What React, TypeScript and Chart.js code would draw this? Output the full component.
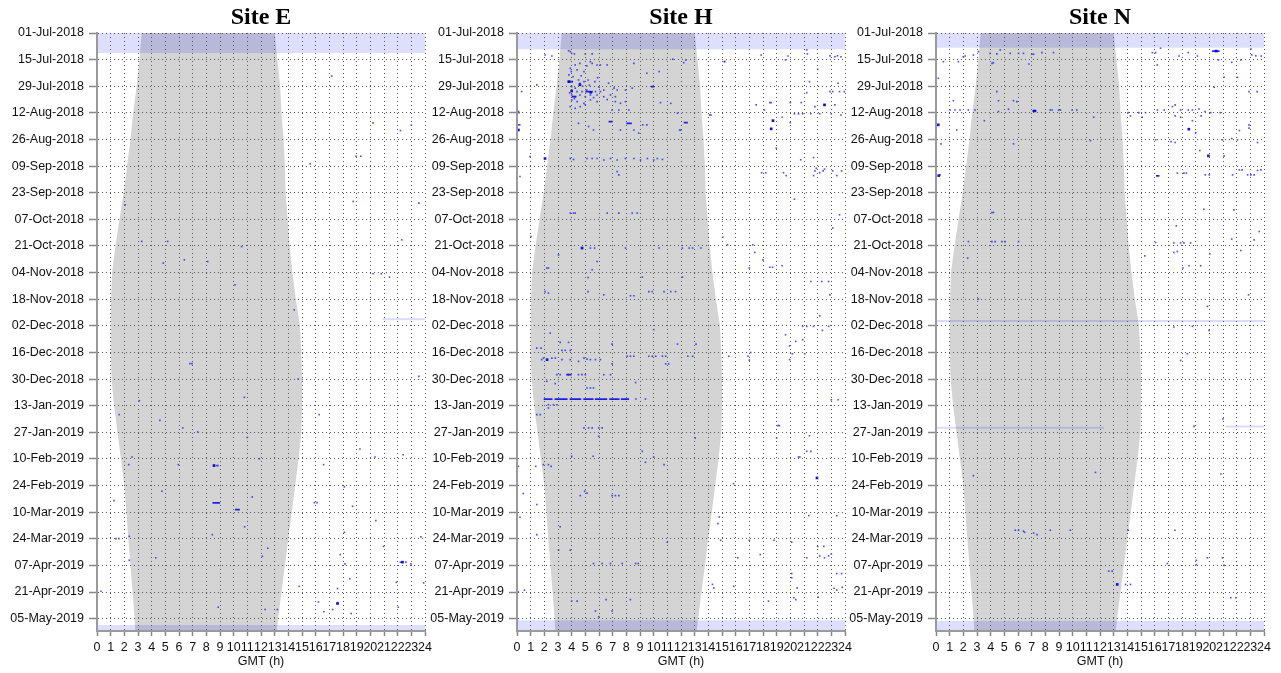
import React, { useEffect, useRef } from "react";
import { Chart, registerables } from "chart.js";
Chart.register(...registerables);

// ---------- axis data ----------
const hourTicks = [0, 1, 2, 3, 4, 5, 6, 7, 8, 9, 10, 11, 12, 13, 14, 15, 16, 17, 18, 19, 20, 21, 22, 23, 24];
const tickDays = [0, 14, 28, 42, 56, 70, 84, 98, 112, 126, 140, 154, 168, 182, 196, 210, 224, 238, 252, 266, 280, 294, 308];
const tickLabels = [
  "01-Jul-2018", "15-Jul-2018", "29-Jul-2018", "12-Aug-2018", "26-Aug-2018", "09-Sep-2018",
  "23-Sep-2018", "07-Oct-2018", "21-Oct-2018", "04-Nov-2018", "18-Nov-2018", "02-Dec-2018",
  "16-Dec-2018", "30-Dec-2018", "13-Jan-2019", "27-Jan-2019", "10-Feb-2019", "24-Feb-2019",
  "10-Mar-2019", "24-Mar-2019", "07-Apr-2019", "21-Apr-2019", "05-May-2019",
];
const dayMax = 314.5;

// ---------- grey period (hours) by day ----------
const nightDays = [0, 14, 28, 42, 56, 70, 84, 98, 112, 126, 140, 154, 168, 182, 196, 210, 224, 238, 252, 266, 280, 294, 308, 315];
const nightStart = [3.27, 3.1, 2.9, 2.65, 2.45, 2.2, 1.95, 1.65, 1.35, 1.1, 1.03, 1.0, 1.0, 1.07, 1.25, 1.5, 1.75, 2.0, 2.15, 2.29, 2.45, 2.6, 2.75, 2.8];
const nightEnd = [13.0, 13.2, 13.4, 13.5, 13.65, 13.75, 13.8, 13.95, 14.1, 14.3, 14.55, 14.85, 14.95, 15.0, 15.0, 14.95, 14.75, 14.5, 14.25, 14.0, 13.75, 13.5, 13.25, 13.15];

// ---------- Site E ----------
const siteEPoints: number[][] = [
  [17.17, 22.6], [20.2, 47.3], [22.2, 51.3], [23.0, 48.5], [18.95, 64.8], [19.3, 64.8], [15.6, 68.8],
  [2.05, 90.4], [18.75, 88.6], [23.55, 89.5], [3.27, 109.6], [5.17, 109.6], [10.58, 112.3], [22.3, 108.8],
  [6.39, 119.3], [4.85, 121], [8.1, 120.2], [20.2, 126.6], [20.8, 126.6], [21.4, 128.4], [10.1, 132.4],
  [14.43, 145.6], [6.8, 173.9], [6.95, 173.9], [14.73, 182], [23.55, 180.6], [3.1, 193.4], [10.78, 191.6],
  [1.63, 200.7], [16.26, 200.7], [4.6, 203.7], [6.27, 207.7], [7.37, 209.8], [11.0, 212.7], [19.24, 218.8],
  [20.34, 223], [22.4, 221.8], [2.56, 223], [2.32, 227], [5.95, 227], [8.56, 227.5], [8.75, 227.5],
  [8.85, 227.5], [11.87, 223.9], [16.58, 227], [4.75, 241], [18.1, 238.7], [1.24, 245.9], [11.36, 244],
  [15.9, 247], [16.1, 247], [18.7, 248.9], [20.4, 256.4], [10.8, 259.7], [8.44, 263.8], [1.39, 265.9],
  [1.6, 265.9], [2.36, 264.7], [18.1, 262.6], [23.7, 265], [20.97, 270], [12.5, 271], [12.1, 275.2],
  [4.3, 276], [2.36, 277.3], [17.8, 274.3], [18.14, 279.2], [22.2, 278.3], [22.35, 278.3], [22.6, 278.3],
  [22.97, 279.2], [18.5, 287], [21.9, 288.9], [23.9, 289.2], [14.8, 291], [17.6, 292.2], [0.29, 293.6],
  [16.2, 299.2], [17.6, 300], [17.24, 303.2], [16.6, 304.4], [18.6, 305.3], [22.04, 302], [8.87, 302],
  [12.3, 303.2], [13.2, 303.2],
];
const siteEStrong: number[][] = [[8.56, 227.5], [17.6, 300], [22.35, 278.3]];
const siteEBouts: number[][] = [[8.45, 9.0, 247.1], [10.1, 10.45, 250.7]];
const siteEGaps: number[][] = [[20.9, 24, 150.5]];
const siteEBands = [0, 10.5, 311.3, dayMax];

// ---------- Site H ----------
const siteHPoints: number[][] = [
  [3.77, 9.3], [3.9, 9.8], [4.0, 10.7], [4.2, 11], [5.0, 11], [5.5, 11], [2.06, 11.6], [2.55, 12.1],
  [1.45, 27.3], [0.34, 30.8], [0.1, 41.3], [0.1, 48.3], [0.2, 48.3], [0.1, 51], [0.96, 65], [0.15, 41.9],
  [8.55, 16], [11.4, 13.8], [12.35, 14.2], [12.2, 15.6], [15.2, 15], [9.5, 21.2], [10.4, 20.3], [6.7, 26.4],
  [10.5, 36.6], [11.25, 37], [11.74, 42.2], [14.1, 43.1], [12.0, 51], [11.9, 51], [9.2, 48.3], [9.5, 48.3],
  [8.55, 51], [8.9, 52.7],
  [3.9, 18.6], [4.26, 16.8], [4.6, 16], [5.1, 17.3], [5.5, 16], [5.86, 16.8], [6.1, 16.8], [6.6, 16.8],
  [4.4, 19.4], [4.9, 20.3], [5.37, 15.1], [3.97, 20.3], [4.1, 23], [4.0, 25.6], [4.5, 24.7], [4.6, 26.4],
  [4.9, 25.6], [5.2, 24.7], [5.7, 25.6], [7.1, 29], [7.33, 30], [7.94, 30], [8.43, 29], [4.0, 28.2],
  [4.26, 29], [4.39, 30.8], [4.76, 30.8], [5.1, 30], [5.5, 30.8], [5.74, 30.8], [6.1, 30.8], [6.35, 30],
  [4.0, 32.6], [4.26, 33.5], [4.6, 32.6], [5.0, 33.5], [5.37, 32.6], [5.86, 32.6], [6.35, 33.5], [6.84, 32.6],
  [7.2, 33.5], [4.0, 35.2], [4.4, 36.1], [4.9, 37], [5.37, 35.2], [5.86, 36.1], [7.2, 36.1], [7.57, 37],
  [7.94, 36.1], [3.9, 38.7], [4.26, 39.6], [4.63, 38.7], [5.0, 37.8], [6.96, 40.5], [7.45, 40.5], [8.18, 40.5],
  [4.5, 47.5], [5.24, 49.2], [5.6, 51], [7.57, 51], [3.8, 22], [4.7, 22.5], [5.3, 27.5], [6.0, 28.5],
  [4.2, 34.5], [5.6, 34], [6.6, 35], [3.85, 31.5], [4.8, 28], [5.9, 23.5],
  [3.9, 66], [4.14, 66.5], [5.12, 66], [5.5, 66], [5.86, 66], [6.35, 66.8], [6.84, 66], [7.33, 66.8],
  [7.94, 66], [8.55, 66], [9.04, 66.8], [9.54, 66], [10.0, 66.8], [10.27, 66], [10.64, 66.5],
  [15.17, 15.1], [17.87, 11.6], [19.83, 12.1], [19.65, 14.2], [21.2, 8.9], [21.25, 11], [22.9, 12],
  [23.26, 12.5], [23.45, 12], [23.7, 12.5], [22.0, 19.1], [21.4, 25.6], [23.5, 26.4], [21.2, 31.4],
  [22.9, 30.8], [23.1, 30.8], [23.6, 30.8], [23.95, 30.8], [17.5, 37.8], [18.5, 36.6], [18.6, 36.6],
  [18.1, 40.5], [20.0, 36.6], [20.8, 36.6], [21.8, 38.7], [22.5, 37.8], [23.26, 37.8], [14.2, 43.1],
  [20.3, 42.5], [20.6, 42.5], [20.9, 42.5], [21.5, 42.5], [22.15, 42.5], [23.0, 42.5], [23.7, 43.1],
  [18.73, 46.1], [19.4, 44.3], [20.0, 47.1], [18.6, 50.4], [18.97, 60.6], [20.76, 66.7], [21.7, 65.5],
  [21.9, 71.1], [22.5, 71.6],
  [0.22, 75.5], [7.45, 74.6], [7.33, 72.9], [3.9, 94.7], [4.14, 94.7], [4.26, 94.7], [6.6, 94.7],
  [7.45, 94.7], [8.43, 94.7], [8.8, 94.7], [1.03, 107], [4.76, 113.1], [5.37, 113.1], [5.68, 113.1],
  [7.94, 113.1], [10.4, 113.1], [12.1, 113.1], [12.6, 113.1], [12.85, 113.1], [13.46, 113.1], [3.04, 116.7],
  [2.18, 123.6], [2.3, 123.6], [5.86, 120.2], [5.5, 124.5], [5.2, 128.6], [9.17, 128.4], [12.1, 128.4],
  [2.06, 136], [2.3, 136.8], [5.2, 136], [6.35, 137.7], [8.3, 138.2], [8.55, 138.2], [9.65, 136], [9.9, 136],
  [10.76, 136], [11.25, 136], [11.6, 136], [10.0, 156], [2.43, 157.8], [3.16, 162.7], [3.77, 162.7],
  [6.96, 163.6], [11.74, 163.6], [13.1, 163.6], [1.45, 165.7], [1.76, 165.7], [3.29, 166.9], [3.53, 166.9],
  [3.9, 166.9], [1.93, 171], [1.8, 171.8], [2.55, 171], [2.8, 171], [3.29, 171.8], [3.9, 171.8], [4.5, 172.7],
  [4.9, 171], [5.12, 171.5], [5.37, 171.8], [5.74, 171.8], [6.1, 171.8], [6.96, 174], [8.07, 170], [8.3, 170],
  [8.55, 170], [9.65, 170], [9.9, 170], [10.15, 170], [10.64, 170], [10.88, 170], [10.88, 174], [11.1, 174],
  [12.5, 170], [12.85, 170], [2.92, 179.7], [3.16, 179.7], [3.77, 179.7], [4.5, 179.7], [4.76, 179.7],
  [5.0, 179.7], [6.35, 179.7], [6.84, 179.7], [2.18, 183.2], [2.8, 184.4], [8.68, 183.8], [5.12, 186.7],
  [5.37, 186.7], [5.6, 186.7], [8.7, 192.5], [9.4, 192.5], [2.3, 195.5], [2.67, 195.5], [2.92, 195.5],
  [2.3, 197.2], [1.45, 200.7], [1.7, 200.7], [23.0, 192.9], [23.5, 192.9],
  [17.9, 73.5], [18.2, 73.5], [19.5, 73.5], [19.7, 75], [21.8, 72.5], [22.15, 73.5], [22.4, 72.5],
  [23.1, 72.5], [23.75, 72.5], [21.7, 75], [23.4, 75], [20.3, 87.4], [23.6, 95.6], [23.1, 102.6],
  [15.05, 107.4], [15.4, 111.4], [17.25, 111.4], [17.4, 115.4], [18.0, 119.3], [18.5, 123.2], [18.7, 123.2],
  [19.4, 122.4], [17.0, 123.6], [21.5, 130.7], [22.3, 130.7], [22.8, 130.7], [22.9, 137.7], [22.15, 148.7],
  [20.9, 154.3], [21.2, 154.3], [21.7, 154.3], [22.8, 154.3], [22.35, 156.4], [19.65, 158.7], [20.4, 162.2],
  [20.9, 161.3], [19.95, 164.5], [20.15, 168.7], [21.05, 168.7], [17.1, 168], [16.9, 170], [17.0, 172],
  [15.5, 170], [19.95, 171.8],
  [4.9, 207.7], [5.24, 207.7], [5.5, 207.7], [5.98, 207.7], [6.23, 207.7], [5.98, 212.1], [13.04, 213],
  [4.0, 222.6], [5.57, 222.6], [9.17, 220], [10.0, 223], [9.4, 225.8], [10.76, 227], [1.93, 227], [2.3, 227],
  [2.5, 227.9], [0.1, 227.9], [1.37, 227.9], [4.95, 241], [5.12, 242], [4.63, 243.3], [6.96, 243.3],
  [7.2, 243.3], [7.45, 243.3], [0.46, 242.2], [1.45, 248], [0.22, 254.7], [3.16, 259.7], [1.45, 263.8],
  [3.04, 272], [3.9, 272], [11.0, 267.8], [5.6, 279], [6.23, 279], [6.84, 279], [7.7, 279], [8.68, 279],
  [8.87, 279], [0.1, 294], [0.54, 293], [4.0, 298.8], [4.4, 298.8], [6.52, 298], [8.3, 298], [5.74, 304],
  [6.96, 304], [5.98, 307],
  [19.1, 206.5], [19.2, 206.5], [19.0, 213], [21.4, 211.8], [21.2, 220], [21.5, 220], [20.6, 223],
  [20.7, 223], [15.85, 237], [21.95, 234], [14.8, 254.5], [14.7, 258], [21.35, 253.8], [23.4, 253.8],
  [14.9, 266.8], [17.0, 266.8], [18.8, 266.8], [20.1, 267.8], [22.0, 270], [22.45, 270], [16.15, 276],
  [17.8, 274.3], [21.2, 276], [22.15, 275], [22.5, 276], [22.8, 275], [23.0, 274], [20.1, 284.3],
  [20.1, 286.5], [23.4, 284.3], [23.75, 284.3], [14.3, 290], [14.4, 291.8], [15.85, 291], [20.5, 291.8],
  [23.2, 292], [23.4, 293], [23.8, 291.5], [20.25, 297], [20.4, 298], [18.4, 298.8], [22.04, 296.7],
];
const siteHStrong: number[][] = [
  [3.8, 25.6], [4.0, 30.5], [4.6, 27.2], [5.4, 31.2], [22.5, 37.8], [18.73, 46.1], [18.6, 50.4],
  [21.95, 234], [2.05, 66], [2.2, 171.8], [4.76, 113.1], [0.1, 51],
];
const siteHBouts: number[][] = [
  [3.7, 4.1, 25.6], [4.0, 4.35, 33.5], [5.0, 5.4, 30.8], [8.0, 8.4, 47.5], [6.7, 7.0, 46.6],
  [12.2, 12.5, 47.1], [9.8, 10.05, 28.2], [3.6, 4.0, 179.7],
  [1.95, 2.6, 192.5], [2.75, 3.7, 192.5], [3.85, 4.7, 192.5], [4.85, 5.6, 192.5], [5.7, 6.6, 192.5],
  [6.75, 7.5, 192.5], [7.6, 8.2, 192.5],
];
const siteHGaps: number[][] = [];
const siteHBands = [0, 8.5, 308.8, dayMax];

// ---------- Site N ----------
const siteNPoints: number[][] = [
  [0.54, 15.1], [1.64, 15.1], [2.0, 12.5], [2.13, 12.1], [2.74, 11.6], [3.1, 9.8], [3.96, 10.7], [4.45, 11],
  [4.7, 8.9], [5.43, 10.7], [6.04, 10.7], [6.4, 10.7], [7.02, 11.2], [7.14, 11.2], [8.6, 10.3], [7.75, 10.3],
  [4.2, 15.6], [4.1, 16], [6.8, 16.3], [0.17, 23.8], [4.45, 30.8], [1.27, 35.6], [4.57, 35.6], [5.67, 35.6],
  [5.92, 36.1], [5.3, 40.1], [1.03, 40.5], [1.39, 40.5], [1.76, 40.5], [2.37, 40.5], [2.86, 40.5],
  [4.57, 41.3], [8.36, 40.5], [8.49, 40.5], [8.97, 40.5], [9.1, 40.5], [9.96, 40.5], [10.3, 40.5],
  [11.54, 44.3], [3.54, 46.1], [1.52, 51], [0.37, 58.3], [5.67, 58.3], [11.3, 56.6], [0.29, 74.6],
  [4.09, 94.4], [4.2, 94.4], [2.37, 109.7], [4.09, 109.7], [4.33, 109.7], [4.82, 109.7], [5.06, 109.7],
  [6.04, 109.7], [2.32, 118.4],
  [15.83, 10.3], [16.07, 10.3], [16.43, 8], [17.78, 12.1], [18.46, 10.3], [19.13, 12.1], [20.67, 14.2],
  [21.64, 15.4], [22.3, 14.2], [23.04, 8.5], [23.1, 11.5], [23.4, 12], [23.8, 12.1], [16.19, 16.8],
  [21.08, 23.3], [22.06, 23.3], [20.35, 28.5], [22.9, 30.8], [23.5, 30.8], [14.06, 41.9], [14.23, 43.6],
  [14.84, 41.9], [15.09, 44.3], [15.33, 41.9], [16.2, 40.5], [16.7, 40.5], [17.3, 38.7], [17.5, 37.8],
  [17.5, 43.6], [17.9, 40.5], [17.9, 44.3], [18.46, 40.5], [18.76, 40.5], [19.24, 40], [19.4, 43.6],
  [19.68, 41.3], [20.1, 41.9], [20.8, 41.9], [18.76, 46.1], [19.0, 52.4], [22.2, 51.3], [22.9, 48.3],
  [22.9, 50], [16.07, 56.2], [17.2, 57.1], [17.5, 57.6], [20.96, 56.2], [21.64, 55.5], [22.06, 56.2],
  [23.53, 57.6], [19.3, 61.8], [21.08, 64.6], [17.66, 73.7], [18.14, 73.7], [18.32, 73.7], [19.7, 74.6],
  [20.0, 74.6], [21.7, 74.6], [22.2, 72], [22.4, 72], [22.8, 74.6], [23.04, 74.6], [23.28, 74.6],
  [23.53, 72.3], [23.77, 72], [19.6, 92.7], [21.8, 93], [17.58, 101.4], [15.28, 117.2], [16.07, 110.2],
  [17.4, 110.4], [17.9, 110.4], [18.14, 110.4], [18.63, 110.4], [17.4, 115.4], [17.66, 114.9],
  [20.03, 116.1], [22.3, 114.4], [21.64, 108.4], [23.28, 108.8], [23.65, 104.4], [18.07, 123.6],
  [18.51, 122.4], [19.37, 122.4],
  [3.1, 139.9], [22.87, 137.7], [19.86, 143.8], [17.41, 154.6], [18.76, 154.3], [19.98, 156.4],
  [17.9, 172.2], [18.39, 168.7], [21.0, 203], [18.88, 206.9], [2.74, 232.8], [11.67, 231.1], [20.84, 231.9],
  [5.8, 261.5], [6.04, 261.5], [6.4, 262], [6.48, 262.6], [7.14, 263], [7.39, 263.8], [8.36, 261.5],
  [9.83, 261.5], [14.06, 261.5], [17.48, 261.5], [16.93, 279], [19.05, 277.3], [19.05, 279.6],
  [19.86, 276], [20.96, 276], [21.08, 280], [12.64, 283], [12.89, 283], [13.87, 290], [14.23, 290],
  [21.57, 297], [21.94, 297],
];
const siteNStrong: number[][] = [
  [0.17, 48.3], [19.93, 64.6], [0.2, 75], [18.5, 50.6], [13.26, 290], [7.2, 41], [20.5, 9.5],
];
const siteNBouts: number[][] = [[20.2, 20.75, 9.5], [16.1, 16.35, 75.1], [7.05, 7.35, 41]];
const siteNGaps: number[][] = [[0, 24, 151.4], [0, 12.3, 207.6], [21.2, 24, 207.0]];
const siteNBands = [0, 7.8, 309.3, dayMax];

const sites = [
  { title: "Site E", left: 0, points: siteEPoints, strong: siteEStrong, bouts: siteEBouts, gaps: siteEGaps, bands: siteEBands },
  { title: "Site H", left: 420, points: siteHPoints, strong: siteHStrong, bouts: siteHBouts, gaps: siteHGaps, bands: siteHBands },
  { title: "Site N", left: 839, points: siteNPoints, strong: siteNStrong, bouts: siteNBouts, gaps: siteNGaps, bands: siteNBands },
];

const CANVAS_W = 437;
const CANVAS_H = 673;
const labelFont = { family: "'Liberation Sans', Arial, sans-serif", size: 12.5 };

function rect(x0: number, x1: number, y0: number, y1: number) {
  return [{ x: x0, y: y0 }, { x: x1, y: y0 }, { x: x1, y: y1 }, { x: x0, y: y1 }];
}
function segs(list: number[][]) {
  return list.flatMap(([a, b, d]) => [{ x: a, y: d }, { x: b, y: d }, { x: b, y: null as any }]);
}

function makeChart(canvas: HTMLCanvasElement, site: any) {
  const shape = [
    ...nightDays.map((d, i) => ({ x: nightStart[i], y: d })),
    ...nightDays.map((d, i) => ({ x: nightEnd[i], y: d })).reverse(),
  ];
  const [t0, t1, b0, b1] = site.bands;
  const bandColor = "rgba(0,0,255,0.13)";
  const data: any = {
    datasets: [
      { type: "line", data: shape, fill: "shape", backgroundColor: "#d4d4d4", borderWidth: 0, pointRadius: 0, order: 10 },
      { type: "line", data: rect(0, 24, t0, t1), fill: "shape", backgroundColor: bandColor, borderWidth: 0, pointRadius: 0, order: 9 },
      { type: "line", data: rect(0, 24, b0, b1), fill: "shape", backgroundColor: bandColor, borderWidth: 0, pointRadius: 0, order: 9 },
      { type: "line", data: segs(site.gaps), fill: false, borderColor: "rgba(0,0,255,0.14)", borderWidth: 2, pointRadius: 0, spanGaps: false, order: 8 },
      { type: "line", data: segs(site.bouts), fill: false, borderColor: "rgba(0,0,230,0.85)", borderWidth: 1.8, pointRadius: 0, spanGaps: false, order: 3 },
      { type: "scatter", data: site.points.map(([h, d]: number[]) => ({ x: h, y: d })), pointStyle: "rect", pointRadius: 1.15, backgroundColor: "rgba(20,20,255,0.75)", borderWidth: 0, order: 2 },
      { type: "scatter", data: site.strong.map(([h, d]: number[]) => ({ x: h, y: d })), pointStyle: "rect", pointRadius: 1.9, backgroundColor: "rgba(0,0,210,0.9)", borderWidth: 0, order: 1 },
    ],
  };
  return new Chart(canvas, {
    type: "scatter",
    data,
    options: {
      animation: false,
      responsive: false,
      devicePixelRatio: 1,
      events: [],
      layout: { padding: { left: 0, right: 12, top: 0, bottom: 0 } },
      plugins: {
        legend: { display: false },
        tooltip: { enabled: false },
        title: {
          display: true,
          text: site.title,
          fullSize: false,
          color: "#000",
          font: { family: "'Liberation Serif', 'Times New Roman', serif", size: 24, weight: "bold" },
          padding: { top: 3.6, bottom: 0.6 },
        },
      },
      scales: {
        x: {
          type: "linear",
          position: "bottom",
          min: 0,
          max: 24,
          afterBuildTicks: (s: any) => { s.ticks = hourTicks.map((v) => ({ value: v })); },
          afterFit: (s: any) => { s.height = 42; },
          ticks: { autoSkip: false, maxRotation: 0, minRotation: 0, padding: 4, color: "#111", font: labelFont, z: 2 },
          grid: { color: "#555", lineWidth: 1, tickLength: 5, tickColor: "#888", tickWidth: 1.5, z: 1 },
          border: { display: true, color: "#9a9a9a", width: 2, dash: [1, 3], z: 2 },
          title: { display: true, text: "GMT (h)", color: "#111", font: labelFont, padding: { top: 0, bottom: 3.5 } },
        },
        y: {
          type: "linear",
          reverse: true,
          min: 0,
          max: dayMax,
          afterBuildTicks: (s: any) => { s.ticks = tickDays.map((v) => ({ value: v })); },
          afterFit: (s: any) => { s.width = 97; },
          ticks: { autoSkip: false, padding: 5, color: "#111", font: labelFont, z: 2, callback: (_v: any, i: number) => tickLabels[i] },
          grid: { color: "#555", lineWidth: 1, tickLength: 8, tickColor: "#888", tickWidth: 1.5, z: 1 },
          border: { display: true, color: "#9a9a9a", width: 2, dash: [1, 3], z: 2 },
        },
      },
    } as any,
  });
}

export default function App() {
  const r0 = useRef<HTMLCanvasElement>(null);
  const r1 = useRef<HTMLCanvasElement>(null);
  const r2 = useRef<HTMLCanvasElement>(null);
  const refs = [r0, r1, r2];
  useEffect(() => {
    const charts = sites.map((s, i) => makeChart(refs[i].current as HTMLCanvasElement, s));
    return () => charts.forEach((c) => c.destroy());
  }, []);
  return (
    <div style={{ position: "absolute", left: 0, top: 0, width: 1281, height: 673, background: "#fff", overflow: "hidden" }}>
      {sites.map((s, i) => (
        <canvas
          key={s.title}
          ref={refs[i]}
          width={CANVAS_W}
          height={CANVAS_H}
          style={{ position: "absolute", left: s.left, top: 0, width: CANVAS_W, height: CANVAS_H }}
        />
      ))}
    </div>
  );
}
